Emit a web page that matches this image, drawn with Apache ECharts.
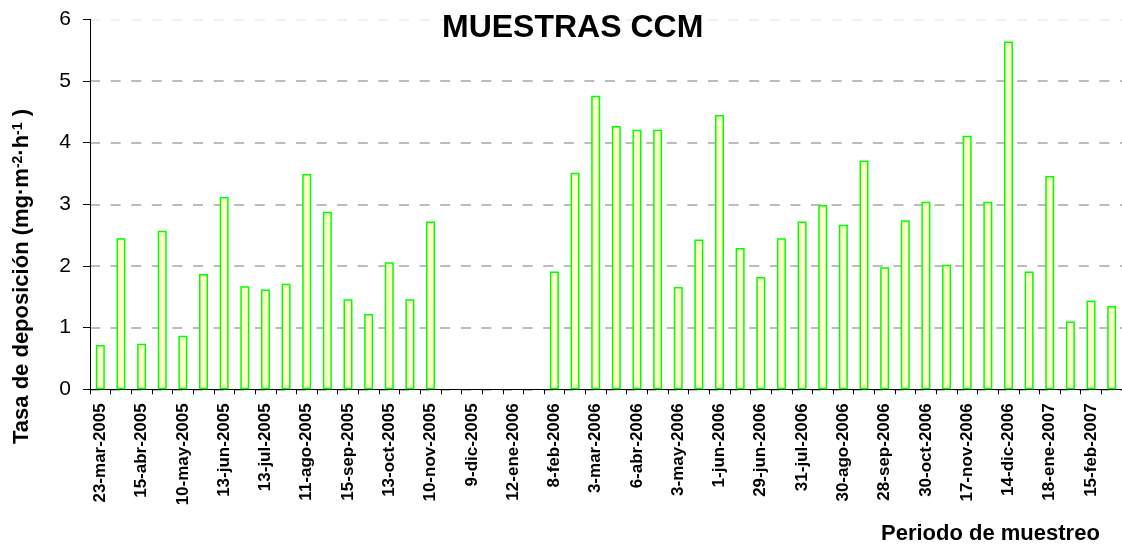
<!DOCTYPE html>
<html>
<head>
<meta charset="utf-8">
<script src="https://cdn.jsdelivr.net/npm/echarts@6/dist/echarts.min.js"></script>
<style>
html,body{margin:0;padding:0;background:#fff;}
#chart{width:1122px;height:547px;}
</style>
</head>
<body>
<div id="chart"></div>
<script>
// Sample labels shown on the x axis (every other sample)
const tickLabels = [
  '23-mar-2005','15-abr-2005','10-may-2005','13-jun-2005','13-jul-2005',
  '11-ago-2005','15-sep-2005','13-oct-2005','10-nov-2005','9-dic-2005',
  '12-ene-2006','8-feb-2006','3-mar-2006','6-abr-2006','3-may-2006',
  '1-jun-2006','29-jun-2006','31-jul-2006','30-ago-2006','28-sep-2006',
  '30-oct-2006','17-nov-2006','14-dic-2006','18-ene-2007','15-feb-2007'
];
// Deposition rate per sample (mg·m-2·h-1); null = no sample
const depositionRate = [
  0.72, 2.45, 0.74, 2.57, 0.87, 1.87, 3.12, 1.67, 1.62, 1.71,
  3.49, 2.88, 1.46, 1.22, 2.06, 1.46, 2.72, null, null, null,
  null, null, 1.91, 3.51, 4.76, 4.27, 4.21, 4.21, 1.66, 2.43,
  4.45, 2.29, 1.82, 2.45, 2.72, 2.99, 2.67, 3.71, 1.98, 2.74,
  3.04, 2.02, 4.11, 3.04, 5.64, 1.91, 3.46, 1.10, 1.44, 1.35
];
const categories = depositionRate.map((_, i) => 'M' + (i + 1));
const yTicks = [0, 1, 2, 3, 4, 5, 6];

const FONT = '"Liberation Sans", Arial, sans-serif';
const chart = echarts.init(document.getElementById('chart'), null, {renderer: 'canvas'});
const gridColor = '#a6a6a6';

chart.setOption({
  animation: false,
  backgroundColor: '#ffffff',
  title: {
    text: 'MUESTRAS CCM',
    left: 442,
    top: 12,
    padding: 0,
    textStyle: {fontFamily: FONT, fontWeight: 'bold', fontSize: 32, color: '#000'}
  },
  grid: {left: 90, right: 0, top: 19.3, bottom: 157.7, containLabel: false},
  xAxis: {
    type: 'category',
    data: categories,
    boundaryGap: true,
    axisLine: {lineStyle: {color: '#000', width: 1}},
    axisTick: {show: true, interval: 0, length: 5, lineStyle: {color: '#000'}},
    axisLabel: {
      interval: 1,
      rotate: 90,
      margin: 14,
      fontFamily: FONT,
      fontWeight: 'bold',
      fontSize: 17,
      color: '#000',
      formatter: (v, idx) => (idx % 2 === 0 ? tickLabels[idx / 2] : '')
    },
    splitLine: {show: false}
  },
  yAxis: {
    type: 'value',
    min: yTicks[0],
    max: yTicks[yTicks.length - 1],
    interval: 1,
    axisLine: {show: true, lineStyle: {color: '#000', width: 1}},
    axisTick: {show: true, length: 7, lineStyle: {color: '#000'}},
    axisLabel: {margin: 19, fontFamily: FONT, fontSize: 21, color: '#000'},
    splitLine: {
      show: true,
      lineStyle: {
        color: [gridColor, gridColor, gridColor, gridColor, gridColor, gridColor, '#ececec'],
        width: 1.5,
        type: [10, 10.6]
      }
    }
  },
  series: [{
    type: 'bar',
    data: depositionRate,
    barWidth: 9,
    itemStyle: {color: '#ffffc8', borderColor: '#00ff00', borderWidth: 1.5}
  }],
  graphic: [
    {
      type: 'text',
      x: 22,
      y: 109,
      rotation: Math.PI / 2,
      style: {
        text: '{b|Tasa de deposición (mg·m}{s|-2}{b|·h}{s|-1}{b| )}',
        textAlign: 'right',
        textVerticalAlign: 'middle',
        fill: '#000',
        rich: {
          b: {fontFamily: FONT, fontWeight: 'bold', fontSize: 22, fill: '#000', verticalAlign: 'bottom'},
          s: {fontFamily: FONT, fontWeight: 'bold', fontSize: 14, fill: '#000', verticalAlign: 'top'}
        }
      }
    },
    {
      type: 'text',
      x: 881,
      y: 534,
      style: {
        text: 'Periodo de muestreo',
        fontFamily: FONT,
        fontWeight: 'bold',
        fontSize: 22,
        fill: '#000',
        textAlign: 'left',
        textVerticalAlign: 'middle'
      }
    }
  ]
});
</script>
</body>
</html>
